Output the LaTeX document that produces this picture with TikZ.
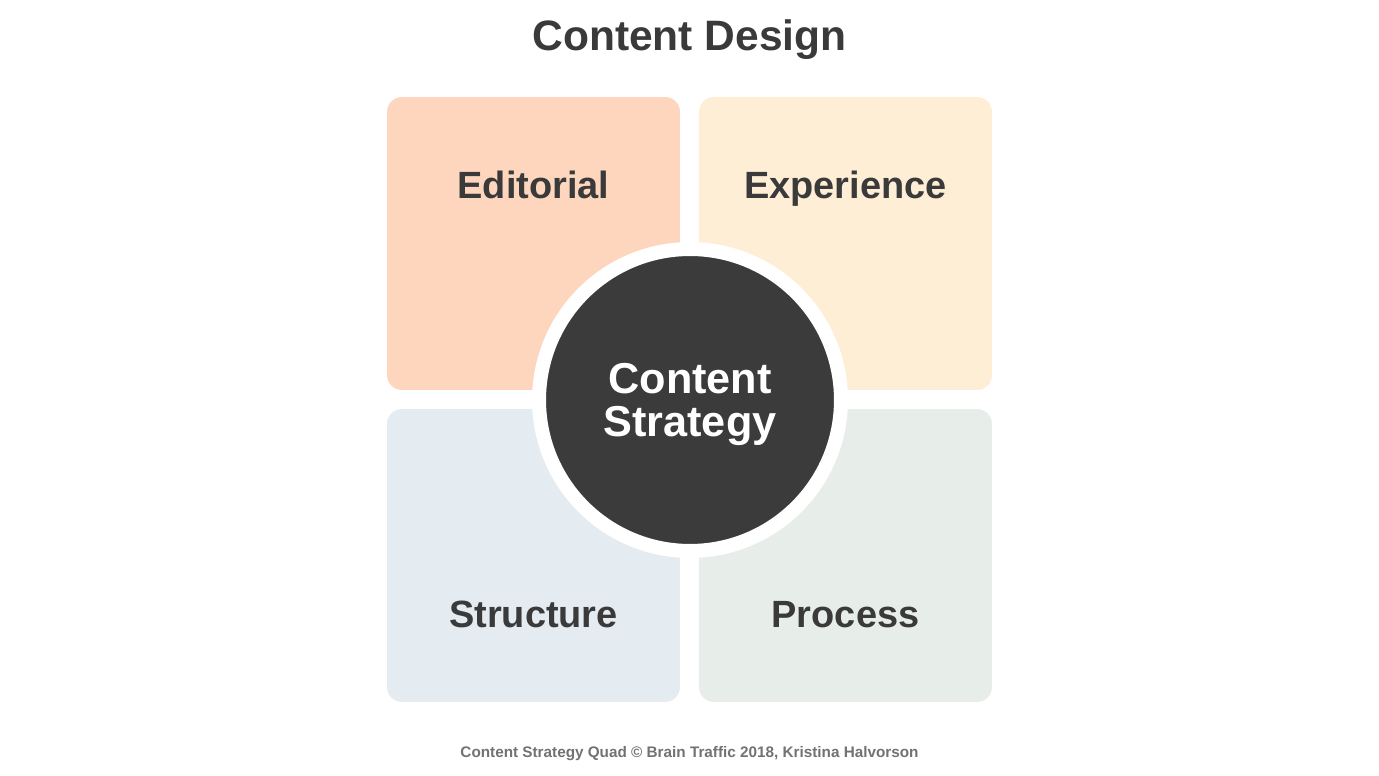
\documentclass[tikz,border=0pt]{standalone}
\usepackage{fontspec}
\setmainfont{Liberation Sans}
\usepackage{xcolor}
\definecolor{EditorialPeach}{HTML}{FDD6BD}
\definecolor{ExperienceCream}{HTML}{FEEED6}
\definecolor{StructureBlue}{HTML}{E4EBF1}
\definecolor{ProcessGreen}{HTML}{E7EDE8}
\definecolor{CoreDark}{HTML}{3B3B3B}
\definecolor{TextDark}{HTML}{3A3A3A}
\definecolor{NoteGray}{HTML}{727272}
\usepackage{tikz}
\usetikzlibrary{positioning}

\begin{document}
\begin{tikzpicture}[x=0.02cm, y=-0.02cm,
    quad/.style={rounded corners=0.3cm, minimum width=5.86cm, minimum height=5.86cm,
      inner sep=0pt},
    quadlabel/.style={anchor=base, font=\fontsize{21.6}{26}\selectfont\bfseries,
      text=TextDark},
    core/.style={circle, fill=CoreDark, draw=white, line width=0.28cm,
      minimum size=6.04cm, inner sep=0pt},
    coretext/.style={text=white, align=center, inner sep=0pt,
      font=\fontsize{24.6}{24.4}\selectfont\bfseries}]
  % Page frame (1379 x 776 px)
  \useasboundingbox[fill=white] (0,0) rectangle (1379,776);

  % Title
  \node[anchor=base, font=\fontsize{24.2}{29}\selectfont\bfseries, text=TextDark]
    (title) at (689.5,51) {Content Design};

  % Four quadrants
  \node[quad, fill=EditorialPeach]  (editorial)  at (533.5,243.5) {};
  \node[quad, fill=ExperienceCream] (experience) at (845.5,243.5) {};
  \node[quad, fill=StructureBlue]   (structure)  at (533.5,555.5) {};
  \node[quad, fill=ProcessGreen]    (process)    at (845.5,555.5) {};

  % Quadrant labels
  \node[quadlabel] (editorialtxt)  at (533.5,199) {Editorial};
  \node[quadlabel] (experiencetxt) at (845.5,199) {Experience};
  \node[quadlabel] (structuretxt)  at (533.5,627) {Structure};
  \node[quadlabel] (processtxt)    at (845.5,627) {Process};

  % Centre circle
  \node[core] (strategy) at (690,400) {};
  \node[coretext] (strategytxt) at (690,404.5) {Content\\Strategy};

  % Footer
  \node[anchor=base, font=\fontsize{8.7}{10}\selectfont\bfseries, text=NoteGray]
    (credit) at (689.5,757)
    {Content Strategy Quad © Brain Traffic 2018, Kristina Halvorson};
\end{tikzpicture}
\end{document}
